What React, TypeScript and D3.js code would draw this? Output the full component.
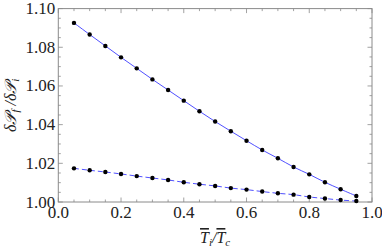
import * as d3 from "d3";

// temperature ratio Ti/Tc
const xs = [0.05, 0.10, 0.15, 0.20, 0.25, 0.30, 0.35, 0.40, 0.45, 0.50, 0.55, 0.60, 0.65, 0.70, 0.75, 0.80, 0.85, 0.90, 0.95];
// upper curve (solid)
const upper = [1.0926, 1.0866, 1.0807, 1.0748, 1.0691, 1.0634, 1.0579, 1.0524, 1.0469, 1.0416, 1.0366, 1.0317, 1.0269, 1.0226, 1.0181, 1.0143, 1.0102, 1.0066, 1.0031];
// lower curve (dashed)
const lower = [1.0174, 1.0164, 1.0155, 1.0145, 1.0134, 1.0124, 1.0114, 1.0102, 1.0092, 1.0083, 1.0072, 1.0064, 1.0054, 1.0045, 1.0038, 1.0026, 1.0018, 1.0010, 1.0005];

const xTicks = [0, 0.2, 0.4, 0.6, 0.8, 1.0];
const yTicks = [1.0, 1.02, 1.04, 1.06, 1.08, 1.1];

const W = 382, H = 248;
const M = { l: 58.3, r: 10, t: 8.6, b: 46 };
const SERIF = { fontFamily: "'Liberation Serif', 'DejaVu Serif', serif" };

export default function App() {
  const sx = d3.scaleLinear().domain([0, 1]).range([M.l, W - M.r]);
  const sy = d3.scaleLinear().domain([1.0, 1.1]).range([H - M.b, M.t]);
  const x0 = sx(0), x1 = sx(1), y0 = sy(1.0), y1 = sy(1.1);

  const line = d3.line<number>().x((_, i) => sx(xs[i])).y(d => sy(d)).curve(d3.curveCatmullRom);
  const minorX = d3.range(0, 1.0001, 0.05);
  const minorY = d3.range(1.0, 1.10001, 0.005);
  const isMajX = (t: number) => Math.abs(t * 5 - Math.round(t * 5)) < 1e-6;
  const isMajY = (t: number) => Math.abs((t - 1) * 50 - Math.round((t - 1) * 50)) < 1e-6;
  const frame = "#8a8a8a";

  return (
    <div style={{ position: "fixed", left: 0, top: 0, width: W, height: H, background: "#fff" }}>
      <svg width={W} height={H} style={{ display: "block" }}>
        <rect x={x0} y={y1} width={x1 - x0} height={y0 - y1} fill="none" stroke={frame} strokeWidth="1" />
        {minorX.map((t, i) => {
          const L = isMajX(t) ? 4.5 : 2.5;
          return (
            <g key={i} stroke={frame} strokeWidth="0.8">
              <line x1={sx(t)} x2={sx(t)} y1={y0} y2={y0 - L} />
              <line x1={sx(t)} x2={sx(t)} y1={y1} y2={y1 + L} />
            </g>
          );
        })}
        {minorY.map((t, i) => {
          const L = isMajY(t) ? 4.5 : 2.5;
          return (
            <g key={i} stroke={frame} strokeWidth="0.8">
              <line x1={x0} x2={x0 + L} y1={sy(t)} y2={sy(t)} />
              <line x1={x1} x2={x1 - L} y1={sy(t)} y2={sy(t)} />
            </g>
          );
        })}
        {xTicks.map((t, i) => (
          <text key={i} x={sx(t)} y={y0 + 16} textAnchor="middle" fontSize="17" style={SERIF} fill="#222">{t.toFixed(1)}</text>
        ))}
        {yTicks.map((t, i) => (
          <text key={i} x={x0 - 3} y={sy(t) + 5.5} textAnchor="end" fontSize="17" style={SERIF} fill="#222">{t.toFixed(2)}</text>
        ))}

        <path d={line(upper) ?? ""} fill="none" stroke="#3c3cff" strokeWidth="0.9" />
        <path d={line(lower) ?? ""} fill="none" stroke="#3c3cff" strokeWidth="0.9" strokeDasharray="5 3" />
        {upper.map((v, i) => <circle key={"u" + i} cx={sx(xs[i])} cy={sy(v)} r="2.2" fill="#000" />)}
        {lower.map((v, i) => <circle key={"l" + i} cx={sx(xs[i])} cy={sy(v)} r="2.2" fill="#000" />)}

        <text x={(x0 + x1) / 2} y={H - 5} textAnchor="middle" fontSize="16" style={SERIF} fontStyle="italic" fill="#222">
          <tspan textDecoration="overline">T</tspan>
          <tspan fontSize="11" dy="3">i</tspan>
          <tspan dy="-3">/</tspan>
          <tspan textDecoration="overline">T</tspan>
          <tspan fontSize="11" dy="3">c</tspan>
        </text>
        <text transform={`translate(16 ${(y0 + y1) / 2}) rotate(-90)`} textAnchor="middle" fontSize="16" style={SERIF} fontStyle="italic" fill="#222">
          δ𝒫<tspan fontSize="11" dy="3">f</tspan><tspan dy="-3"> /δ𝒫</tspan><tspan fontSize="11" dy="3">i</tspan>
        </text>
      </svg>
    </div>
  );
}
